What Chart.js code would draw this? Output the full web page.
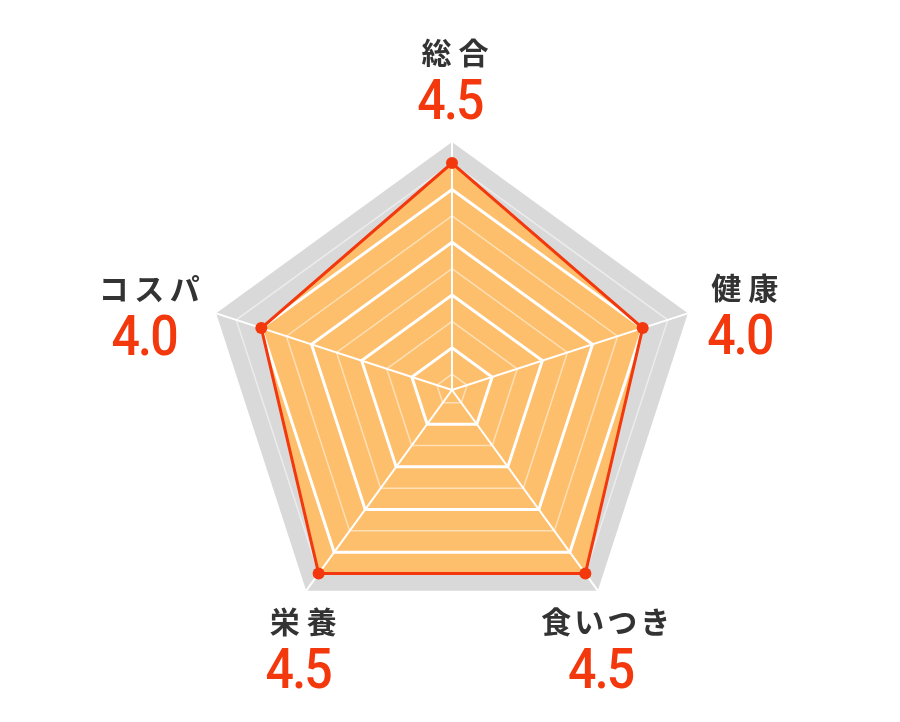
<!DOCTYPE html>
<html lang="ja">
<head>
<meta charset="utf-8">
<title>評価レーダーチャート</title>
<script src="https://cdn.jsdelivr.net/npm/chart.js@4.4.1/dist/chart.umd.min.js"></script>
<style>
    html, body { margin: 0; padding: 0; background: #fff; }
    #wrap { width: 900px; height: 722px; }
</style>
</head>
<body>
<div id="wrap"><canvas id="radar" width="900" height="722"></canvas></div>
<script>
/* Radar — 5 axis rating */

// ---- data ----
var CATEGORIES = ['総合', '健康', '食いつき', '栄養', 'コスパ'];
var SCORES     = [4.5, 4.0, 4.5, 4.5, 4.0];
var SCORE_TEXT = ['4.5', '4.0', '4.5', '4.5', '4.0'];
var RING_VALUES = [0.5, 1, 1.5, 2, 2.5, 3, 3.5, 4, 4.5];
var SCALE_MIN = 0.2;
var SCALE_MAX = 4.9;

// ---- look ----
var RED    = '#f2380c';
var ORANGE = '#fdbf6c';
var GRAY   = '#d9d9d9';
var INK    = '#333333';

// label block offset from the outer corner of each axis (value baseline)
var LABEL_OFFSETS = [[-1, -23], [53, 41], [4, 97], [-7, 97], [-71, 42]];
var NAME_SPACING  = [7, 7, 3, 7, 5.5];
var NAME_RAISE = 55;
var VALUE_SQUEEZE = 0.91;

var overlayGrid = false;

function isWhole(v) { return Math.abs(v - Math.round(v)) < 1e-6; }
function isHalf(v)  { return Math.abs(v * 2 - Math.round(v * 2)) < 1e-6; }

// draws the rings / spokes again on top of the orange fill, below the red line
var gridOverFill = {
    id: 'gridOverFill',
    afterDatasetDraw: function (chart, args) {
        if (args.index !== 0) return;
        overlayGrid = true;
        chart.scales.r.drawGrid(chart.chartArea);
        overlayGrid = false;
    }
};

var axisText = {
    id: 'axisText',
    afterDraw: function (chart) {
        var scale = chart.scales.r;
        var ctx = chart.ctx;
        CATEGORIES.forEach(function (name, i) {
            var p = scale.getPointPosition(i, scale.drawingArea);
            var x = p.x + LABEL_OFFSETS[i][0];
            var y = p.y + LABEL_OFFSETS[i][1];
            var sp = NAME_SPACING[i];

            ctx.save();
            ctx.textAlign = 'center';
            ctx.textBaseline = 'alphabetic';
            ctx.fillStyle = INK;
            ctx.font = 'bold 30px "Noto Sans CJK JP"';
            ctx.letterSpacing = sp + 'px';
            ctx.fillText(name, x + 4 + sp / 2, y - NAME_RAISE);
            ctx.restore();

            // score digits are a bit narrow in the original
            ctx.save();
            ctx.translate(x - 1, y);
            ctx.scale(VALUE_SQUEEZE, 1);
            ctx.textAlign = 'center';
            ctx.textBaseline = 'alphabetic';
            ctx.fillStyle = RED;
            ctx.font = '500 55px Roboto';
            ctx.letterSpacing = '-2px';
            ctx.fillText(SCORE_TEXT[i], 0, 0);
            ctx.restore();
        });
    }
};

new Chart(document.getElementById('radar'), {
    type: 'radar',
    data: {
        labels: CATEGORIES,
        datasets: [
            {
                label: 'fill',
                data: SCORES,
                order: 2,
                fill: 'origin',
                backgroundColor: ORANGE,
                borderWidth: 0,
                pointRadius: 0,
            },
            {
                label: 'score',
                data: SCORES,
                order: 1,
                fill: false,
                borderColor: RED,
                borderWidth: 3,
                pointRadius: 6,
                pointHoverRadius: 6,
                pointBackgroundColor: RED,
                pointBorderWidth: 0,
            },
        ],
    },
    options: {
        responsive: false,
        animation: false,
        events: [],
        layout: { padding: { top: 142, bottom: 84, left: 204, right: 200 } },
        plugins: {
            legend: { display: false },
            tooltip: { enabled: false },
        },
        elements: { line: { tension: 0 } },
        scales: {
            r: {
                min: SCALE_MIN,
                max: SCALE_MAX,
                backgroundColor: GRAY,
                afterBuildTicks: function (scale) {
                    var t = [{ value: SCALE_MIN }];
                    RING_VALUES.forEach(function (v) { t.push({ value: v }); });
                    t.push({ value: SCALE_MAX });
                    scale.ticks = t;
                },
                ticks: { display: false },
                pointLabels: { display: false },
                grid: {
                    color: function (c) {
                        var v = c.tick ? c.tick.value : 0;
                        return isWhole(v) ? '#ffffff' : 'rgba(255,255,255,0.5)';
                    },
                    lineWidth: function (c) {
                        if (!overlayGrid || !c.tick) return 0;
                        var v = c.tick.value;
                        if (isWhole(v)) return 3;
                        if (isHalf(v)) return 1.5;
                        return 0;
                    },
                },
                angleLines: {
                    color: '#ffffff',
                    lineWidth: function () { return overlayGrid ? 2 : 0; },
                },
            },
        },
    },
    plugins: [gridOverFill, axisText],
});
</script>
</body>
</html>
